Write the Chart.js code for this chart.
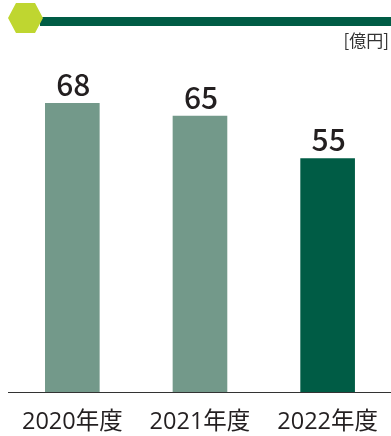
<!DOCTYPE html>
<html>
<head>
<meta charset="utf-8">
<script src="https://cdn.jsdelivr.net/npm/chart.js@4/dist/chart.umd.min.js"></script>
<style>
  html, body { margin: 0; padding: 0; background: #fff; overflow: hidden; }
  #wrap { position: relative; width: 391px; height: 436px; overflow: hidden; }
  #wrap canvas { position: absolute; left: 0; top: 0; }
</style>
</head>
<body>
<div id="wrap"><canvas id="graph-rd" width="394" height="436"></canvas></div>
<script>
const categories = ["2020年度", "2021年度", "2022年度"];
const values = [68, 65, 55];
const barColors = ["#73998a", "#73998a", "#005c45"];
const unitLabel = "[億円]";

const font = "'Open Sans', 'Noto Sans CJK JP', sans-serif";
const cjkFont = "'Noto Sans CJK JP', 'Noto Sans', sans-serif";

// hexagon + rule + unit label across the top
const header = {
  id: "header",
  afterDraw(chart) {
    const ctx = chart.ctx;
    ctx.save();
    ctx.fillStyle = "#005c45";
    ctx.fillRect(40, 17, 360, 9);
    ctx.fillStyle = "#bfd630";
    ctx.beginPath();
    ctx.moveTo(8, 18);
    ctx.lineTo(16, 3);
    ctx.lineTo(35, 3);
    ctx.lineTo(43, 18);
    ctx.lineTo(35, 33);
    ctx.lineTo(16, 33);
    ctx.closePath();
    ctx.fill();
    ctx.fillStyle = "#333";
    ctx.font = "17px " + cjkFont;
    ctx.textAlign = "right";
    ctx.textBaseline = "alphabetic";
    ctx.fillText(unitLabel, 389, 47);
    ctx.restore();
  },
};

// value above each bar
const valueLabels = {
  id: "valueLabels",
  afterDatasetsDraw(chart) {
    const ctx = chart.ctx;
    const meta = chart.getDatasetMeta(0);
    ctx.save();
    ctx.fillStyle = "#231f20";
    ctx.font = "500 30px " + cjkFont;
    ctx.textAlign = "center";
    ctx.textBaseline = "alphabetic";
    meta.data.forEach((bar, i) => {
      ctx.fillText(String(values[i]), bar.x + 1, bar.y - 7);
    });
    ctx.restore();
  },
};

new Chart(document.getElementById("graph-rd"), {
  type: "bar",
  data: {
    labels: categories,
    datasets: [
      {
        data: values,
        backgroundColor: barColors,
        borderWidth: 0,
        barPercentage: 0.428,
        categoryPercentage: 1,
      },
    ],
  },
  options: {
    responsive: false,
    animation: false,
    layout: { padding: { top: 52, left: 8.5, right: 0, bottom: 0 } },
    plugins: {
      legend: { display: false },
      tooltip: { enabled: false },
    },
    scales: {
      x: {
        grid: { display: false, drawTicks: false },
        border: { display: true, color: "#333", width: 1 },
        ticks: {
          color: "#231f20",
          font: { family: font, size: 23.5 },
          padding: 16,
          maxRotation: 0,
        },
        afterFit(scale) {
          scale.height = 44;
        },
      },
      y: {
        display: false,
        min: 0,
        max: 80,
      },
    },
  },
  plugins: [header, valueLabels],
});
</script>
</body>
</html>
